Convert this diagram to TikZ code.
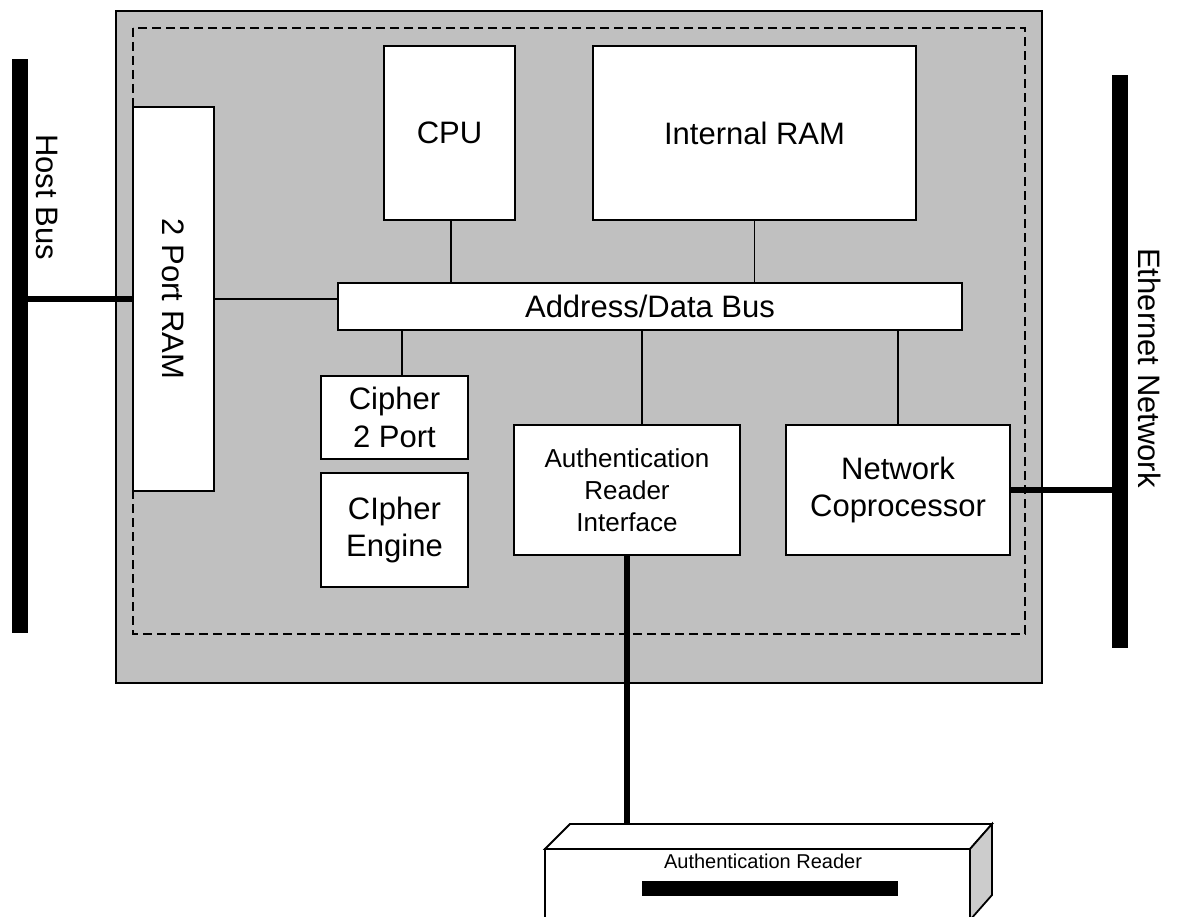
\documentclass[tikz,border=0pt]{standalone}
\usepackage{fontspec}
\setmainfont{Liberation Sans}
\definecolor{chipgrey}{HTML}{C0C0C0}
\definecolor{sidegrey}{HTML}{CCCCCC}
\begin{document}
\begin{tikzpicture}[x=1pt,y=-1pt,
  box/.style={draw, line width=1.8pt, fill=white, inner sep=0pt, align=center,
    font=\fontsize{31}{37.5}\selectfont},
  smallbox/.style={box, font=\fontsize{26}{32}\selectfont},
  busbar/.style={fill=black, inner sep=0pt, minimum width=16pt},
  conn/.style={line width=1.3pt},
  heavy/.style={line width=5.5pt},
  lbl/.style={font=\fontsize{31}{35}\selectfont, inner sep=0pt, rotate=-90}
]
\path[use as bounding box] (0,0) rectangle (1177,917);
\clip (0,0) rectangle (1177,917);
\fill[white] (0,0) rectangle (1177,917);

% chip
\node[draw, line width=1.8pt, fill=chipgrey, inner sep=0pt,
  minimum width=926pt, minimum height=672pt] (chip) at (579,347) {};
\draw[line width=1.5pt, dash pattern=on 9pt off 5pt] (133,28) rectangle (1025,634);

% buses outside
\node[busbar, minimum height=574pt] (hostbar) at (20,346) {};
\node[busbar, minimum height=573pt] (ethbar) at (1120,361.5) {};
\node[lbl] (hostlbl) at (47,197) {Host Bus};
\node[lbl] (ethlbl) at (1150,368) {Ethernet Network};

% blocks
\node[box, minimum width=131pt, minimum height=174pt] (cpu) at (449.5,133) {CPU};
\node[box, minimum width=323pt, minimum height=174pt] (iram) at (754.5,133) {Internal RAM};
\node[box, minimum width=624pt, minimum height=47pt] (bus) at (650,306.5) {Address/Data Bus};
\node[box, minimum width=81pt, minimum height=384pt] (ram2) at (173.5,299) {};
\node[lbl] (ram2lbl) at (ram2.center) {2 Port RAM};
\node[box, minimum width=147pt, minimum height=83pt] (c2p) at (394.5,417.5) {Cipher\\2 Port};
\node[box, minimum width=147pt, minimum height=114pt] (ceng) at (394.5,530) {CIpher\\Engine};
\node[smallbox, minimum width=226pt, minimum height=130pt] (ari) at (627,490) {Authentication\\Reader\\Interface};
\node[box, minimum width=224pt, minimum height=130pt] (nc) at (898,490) {Network\\Coprocessor};

% internal connectors
\draw[conn] ([xshift=1.5pt]cpu.south) -- ([xshift=1.5pt]cpu.south |- bus.north);
\draw[conn] (iram.south) -- (iram.south |- bus.north);
\draw[conn] ([xshift=7.5pt]c2p.north) -- ([xshift=7.5pt]c2p.north |- bus.south);
\draw[conn] ([xshift=15pt]ari.north) -- ([xshift=15pt]ari.north |- bus.south);
\draw[conn] (nc.north) -- (nc.north |- bus.south);
\draw[conn] (ram2.east) -- (ram2.east -| bus.west);

% external connectors
\draw[heavy] (hostbar.east |- ram2.west) -- (ram2.west);
\draw[heavy] (nc.east) -- (nc.east -| ethbar.west);

% authentication reader (3D box)
\draw[line width=1.8pt, fill=white] (545,849) rectangle (970,940);
\draw[line width=1.8pt, fill=white, line join=miter] (545,849) -- (570,824) -- (992,824) -- (970,849) -- cycle;
\draw[line width=1.8pt, fill=sidegrey] (970,849) -- (992,824) -- (992,895) -- (970,920) -- cycle;
\coordinate (readertop) at (627,824);
\node[font=\fontsize{20}{24}\selectfont, inner sep=0pt] (readerlbl) at (763,861) {Authentication Reader};
\node[fill=black, inner sep=0pt, minimum width=256pt, minimum height=15pt] (slot) at (770,888.5) {};
\draw[heavy] (ari.south) -- (ari.south |- readertop);
\end{tikzpicture}
\end{document}
